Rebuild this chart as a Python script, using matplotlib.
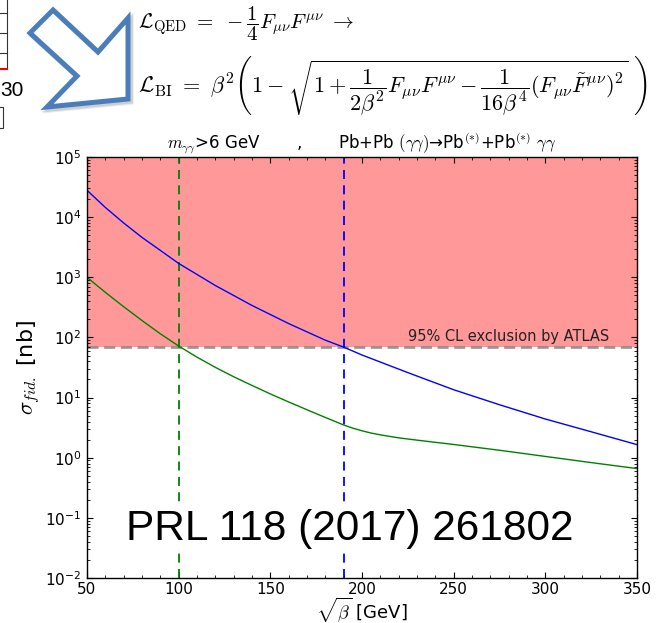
import matplotlib
matplotlib.use("Agg")
import matplotlib.pyplot as plt
from matplotlib.patches import Polygon, Rectangle
from matplotlib.lines import Line2D

plt.rcParams["mathtext.fontset"] = "cm"
plt.rcParams["font.family"] = ["DejaVu Sans"]
plt.rcParams["axes.unicode_minus"] = False

# sqrt(beta) grid [GeV] and fiducial cross sections [nb]
sqrt_beta_blue = [50, 60, 70, 80, 90, 100, 120, 140, 160, 180, 190, 200,
                  225, 250, 275, 300, 325, 350]
sigma_blue = [28000, 14500, 8000, 4600, 2800, 1700, 730, 340, 170, 90, 69,
              51, 26, 13.5, 7.6, 4.4, 2.7, 1.65]

sqrt_beta_green = [50, 60, 70, 80, 90, 100, 110, 120, 130, 140, 150, 160,
                   170, 180, 190, 195, 200, 205, 210, 220, 230, 250, 275,
                   300, 325, 350]
sigma_green = [1000, 562, 324, 191, 115, 72, 47, 31.8, 22.2, 15.9, 11.5,
               8.45, 6.27, 4.67, 3.5, 3.1, 2.8, 2.57, 2.4, 2.14, 1.96, 1.66,
               1.33, 1.05, 0.83, 0.66]

atlas_limit = 70.0          # 95% CL upper limit [nb]
limit_green = 100           # sqrt(beta) where each curve meets the limit
limit_blue = 190

W, H = 658, 623
fig = plt.figure(figsize=(W / 100, H / 100), dpi=100)
ax = fig.add_axes([87 / W, 1 - 578 / H, 550 / W, 421 / H])


def px(x, y):
    """Pixel position (from top-left) to figure fraction."""
    return (x / W, 1 - y / H)


# exclusion region
ax.axhspan(atlas_limit, 1e5, color="red", alpha=0.4, lw=0, zorder=0)
ax.axhline(atlas_limit, color="gray", ls="--", lw=2, dashes=(4, 2), alpha=0.8,
           zorder=1)
ax.text(335, 78, "95% CL exclusion by ATLAS", ha="right", va="bottom",
        fontsize=10.5, color="#222222")

ax.axvline(limit_green, color="g", ls="--", lw=1.3, dashes=(5, 3.5))
ax.axvline(limit_blue, color="b", ls="--", lw=1.3, dashes=(5, 3.5))

ax.plot(sqrt_beta_blue, sigma_blue, color="b", lw=1.0)
ax.plot(sqrt_beta_green, sigma_green, color="g", lw=1.0)

ax.set_yscale("log")
ax.set_xlim(50, 350)
ax.set_ylim(1e-2, 1e5)
ax.set_xticks([50, 100, 150, 200, 250, 300, 350])
ax.set_xticks(range(50, 351, 10), minor=True)
ax.tick_params(which="both", direction="in", top=True, right=True,
               labelsize=11)
ax.tick_params(axis="x", pad=3)
ax.tick_params(axis="y", pad=4)
ax.tick_params(which="major", length=4, width=0.8)
ax.tick_params(which="minor", length=2, width=0.6)
for s in ax.spines.values():
    s.set_linewidth(1.0)

ax.set_xlabel(r"$\sqrt{\beta}$ [GeV]", fontsize=13, labelpad=-1)
ax.set_ylabel(r"$\sigma_{fid.}$ [nb]", fontsize=16, labelpad=2)
ax.set_title(r"$m_{\gamma\gamma}$>6 GeV       ,       Pb+Pb $(\gamma\gamma)$"
             r"→Pb$^{(*)}$+Pb$^{(*)}$ $\gamma\gamma$", fontsize=12, pad=6)

fig.text(*px(126, 540), "PRL 118 (2017) 261802", family="Liberation Sans",
         fontsize=30.5, color="black", ha="left", va="baseline",
         bbox=dict(facecolor="white", edgecolor="none", pad=2))

# Lagrangians
fig.text(*px(138, 24),
         r"$\mathcal{L}_{\rm QED}\ =\ -\dfrac{1}{4}F_{\mu\nu}F^{\mu\nu}\ \rightarrow$",
         fontsize=15, ha="left", va="center")
fig.text(*px(138, 86),
         r"$\mathcal{L}_{\rm BI}\ =\ \beta^2\left(1-\sqrt{1+\dfrac{1}{2\beta^2}"
         r"F_{\mu\nu}F^{\mu\nu}-\dfrac{1}{16\beta^4}(F_{\mu\nu}\tilde{F}^{\mu\nu})^2}"
         r"\ \right)$",
         fontsize=16, ha="left", va="center")

# outlined arrow pointing at the plot
arrow_px = [(53, 10), (98, 52), (128, 18), (128, 99), (47, 107), (77, 76),
            (30, 33)]
for dx, dy, a in [(3, 3, 0.08), (2, 2, 0.12)]:
    fig.patches.append(Polygon([px(x + dx, y + dy) for x, y in arrow_px],
                               closed=True, transform=fig.transFigure,
                               facecolor="none", edgecolor="black", alpha=a,
                               lw=4, joinstyle="miter"))
fig.patches.append(Polygon([px(x, y) for x, y in arrow_px], closed=True,
                           transform=fig.transFigure, facecolor="white",
                           edgecolor="#4a7ebb", lw=3.6, joinstyle="miter"))

# edge of the neighbouring table
for yy in (13, 33, 53):
    fig.lines.append(Line2D([0, 7 / W], [1 - yy / H] * 2,
                            transform=fig.transFigure, color="#333333",
                            lw=0.8))
fig.lines.append(Line2D([7 / W, 7 / W], [1, 1 - 69 / H],
                        transform=fig.transFigure, color="#333333", lw=0.8))
fig.lines.append(Line2D([0, 7 / W], [1 - 69 / H] * 2,
                        transform=fig.transFigure, color="red", lw=1.5))
fig.text(*px(0, 96), "30", family="Liberation Sans", fontsize=15,
         ha="left", va="baseline")
fig.patches.append(Rectangle(px(-5, 128), 8 / W, 21 / H,
                             transform=fig.transFigure, facecolor="none",
                             edgecolor="#333333", lw=0.8))

fig.savefig("out.png", dpi=100)
